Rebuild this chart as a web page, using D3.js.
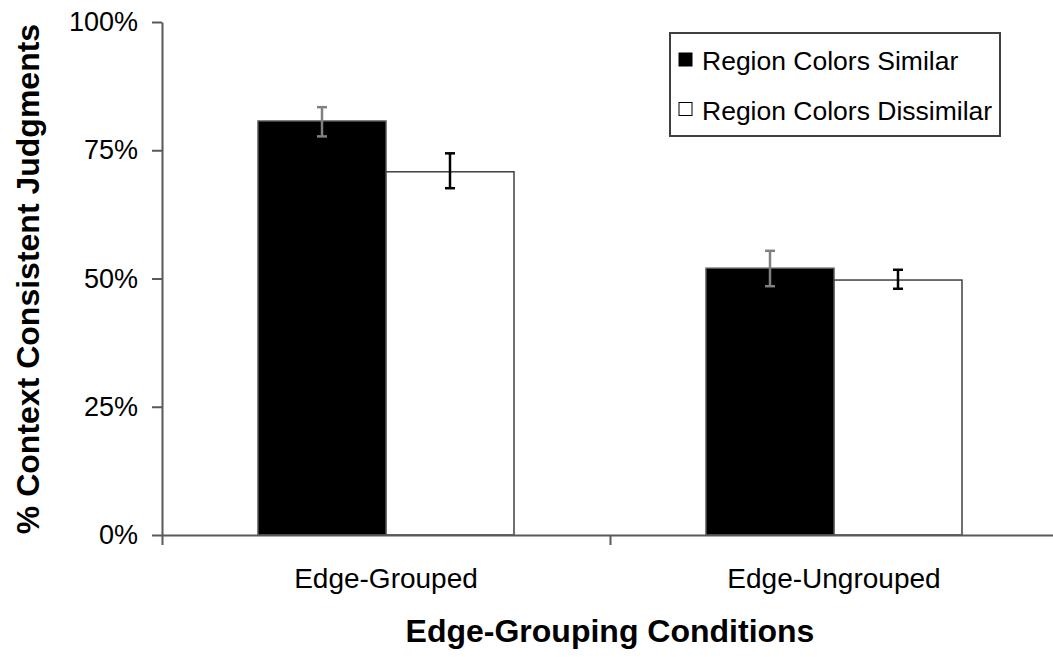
<!DOCTYPE html>
<html lang="en">
<head>
    <meta charset="UTF-8">
    <title>Edge-Grouping Conditions</title>
    <script src="https://cdn.jsdelivr.net/npm/d3@7"></script>
    <style>
        body { margin: 0; background: #fff; }
        svg { display: block; }
        text { font-family: "Liberation Sans", Arial, sans-serif; fill: #000; }
    </style>
</head>
<body>
<svg width="1053" height="657"></svg>
<script>

    // data
    var conditions = ["Edge-Grouped", "Edge-Ungrouped"];
    var seriesNames = ["Region Colors Similar", "Region Colors Dissimilar"];
    var similar = [80.7, 52.0];
    var dissimilar = [70.8, 49.7];
    var similarLow = [77.7, 48.5], similarHigh = [83.4, 55.4];
    var dissimilarLow = [67.6, 48.0], dissimilarHigh = [74.4, 51.7];
    var yTicks = [0, 25, 50, 75, 100];

    var svg = d3.select("svg"),
        plotLeft = 162, plotRight = 1058, plotTop = 22, plotBottom = 535;

    var fills = ["#000", "#fff"],
        strokes = ["#555", "#404040"],
        errColors = ["#808080", "#000"];

    var rows = [];
    conditions.forEach(function(c, i) {
        rows.push({cond: c, s: 0, v: similar[i], lo: similarLow[i], hi: similarHigh[i]});
        rows.push({cond: c, s: 1, v: dissimilar[i], lo: dissimilarLow[i], hi: dissimilarHigh[i]});
    });

    var x = d3.scaleBand().domain(conditions).range([plotLeft, plotRight])
        .paddingInner(0.4286).paddingOuter(0.2143);
    var xs = d3.scaleBand().domain([0, 1]).range([0, x.bandwidth()]);
    var xEdge = d3.scaleLinear().domain([0, conditions.length]).range([plotLeft, plotRight]);
    var y = d3.scaleLinear().domain([0, 100]).range([plotBottom, plotTop]);

    // bars
    svg.selectAll(".bar")
        .data(rows)
        .enter()
        .append("rect")
        .attr("class", "bar")
        .attr("x", function(d) { return x(d.cond) + xs(d.s); })
        .attr("y", function(d) { return y(d.v); })
        .attr("width", xs.bandwidth())
        .attr("height", function(d) { return y(0) - y(d.v); })
        .attr("fill", function(d) { return fills[d.s]; })
        .attr("stroke", function(d) { return strokes[d.s]; })
        .attr("stroke-width", 1.5);

    // error bars
    var err = svg.selectAll(".err")
        .data(rows)
        .enter()
        .append("g")
        .attr("class", "err")
        .attr("stroke", function(d) { return errColors[d.s]; })
        .attr("stroke-width", 2.5);
    function cx(d) { return x(d.cond) + xs(d.s) + xs.bandwidth() / 2; }
    err.append("line")
        .attr("x1", cx).attr("x2", cx)
        .attr("y1", function(d) { return y(d.lo); })
        .attr("y2", function(d) { return y(d.hi); });
    err.append("line")
        .attr("x1", function(d) { return cx(d) - 5; })
        .attr("x2", function(d) { return cx(d) + 5; })
        .attr("y1", function(d) { return y(d.hi); })
        .attr("y2", function(d) { return y(d.hi); });
    err.append("line")
        .attr("x1", function(d) { return cx(d) - 5; })
        .attr("x2", function(d) { return cx(d) + 5; })
        .attr("y1", function(d) { return y(d.lo); })
        .attr("y2", function(d) { return y(d.lo); });

    // y axis
    var yAxis = svg.append("g")
        .attr("transform", "translate(" + plotLeft + ",0)")
        .call(d3.axisLeft(y).tickValues(yTicks).tickSize(10).tickSizeOuter(0)
            .tickPadding(14).tickFormat(function(d) { return d + "%"; }));
    yAxis.selectAll("text").style("font-size", "27px").attr("fill", "#000");

    // x axis (ticks on category edges)
    var xAxis = svg.append("g")
        .attr("transform", "translate(0," + plotBottom + ")")
        .call(d3.axisBottom(xEdge).tickValues(d3.range(conditions.length + 1))
            .tickSize(10).tickSizeOuter(0).tickFormat(""));

    svg.selectAll(".domain, .tick line")
        .attr("stroke", "#595959")
        .attr("stroke-width", 2);

    svg.selectAll(".xlabel")
        .data(conditions)
        .enter()
        .append("text")
        .attr("class", "xlabel")
        .attr("x", function(d) { return x(d) + x.bandwidth() / 2; })
        .attr("y", 588)
        .attr("text-anchor", "middle")
        .style("font-size", "28px")
        .text(function(d) { return d; });

    // axis titles
    svg.append("text")
        .attr("x", 610)
        .attr("y", 642)
        .attr("text-anchor", "middle")
        .style("font-size", "32px")
        .style("font-weight", "bold")
        .text("Edge-Grouping Conditions");

    svg.append("text")
        .attr("transform", "translate(39,279) rotate(-90)")
        .attr("text-anchor", "middle")
        .style("font-size", "32px")
        .style("font-weight", "bold")
        .text("% Context Consistent Judgments");

    // legend
    var legend = svg.append("g");
    legend.append("rect")
        .attr("x", 670).attr("y", 33)
        .attr("width", 330).attr("height", 103)
        .attr("fill", "#fff")
        .attr("stroke", "#404040")
        .attr("stroke-width", 2);
    var item = legend.selectAll(".item")
        .data(seriesNames)
        .enter()
        .append("g")
        .attr("class", "item")
        .attr("transform", function(d, i) { return "translate(679," + (53 + i * 49.5) + ")"; });
    item.append("rect")
        .attr("width", 13).attr("height", 13)
        .attr("fill", function(d, i) { return fills[i]; })
        .attr("stroke", "#000")
        .attr("stroke-width", 1);
    item.append("text")
        .attr("x", 23)
        .attr("y", 17)
        .style("font-size", "26.5px")
        .text(function(d) { return d; });
</script>
</body>
</html>
